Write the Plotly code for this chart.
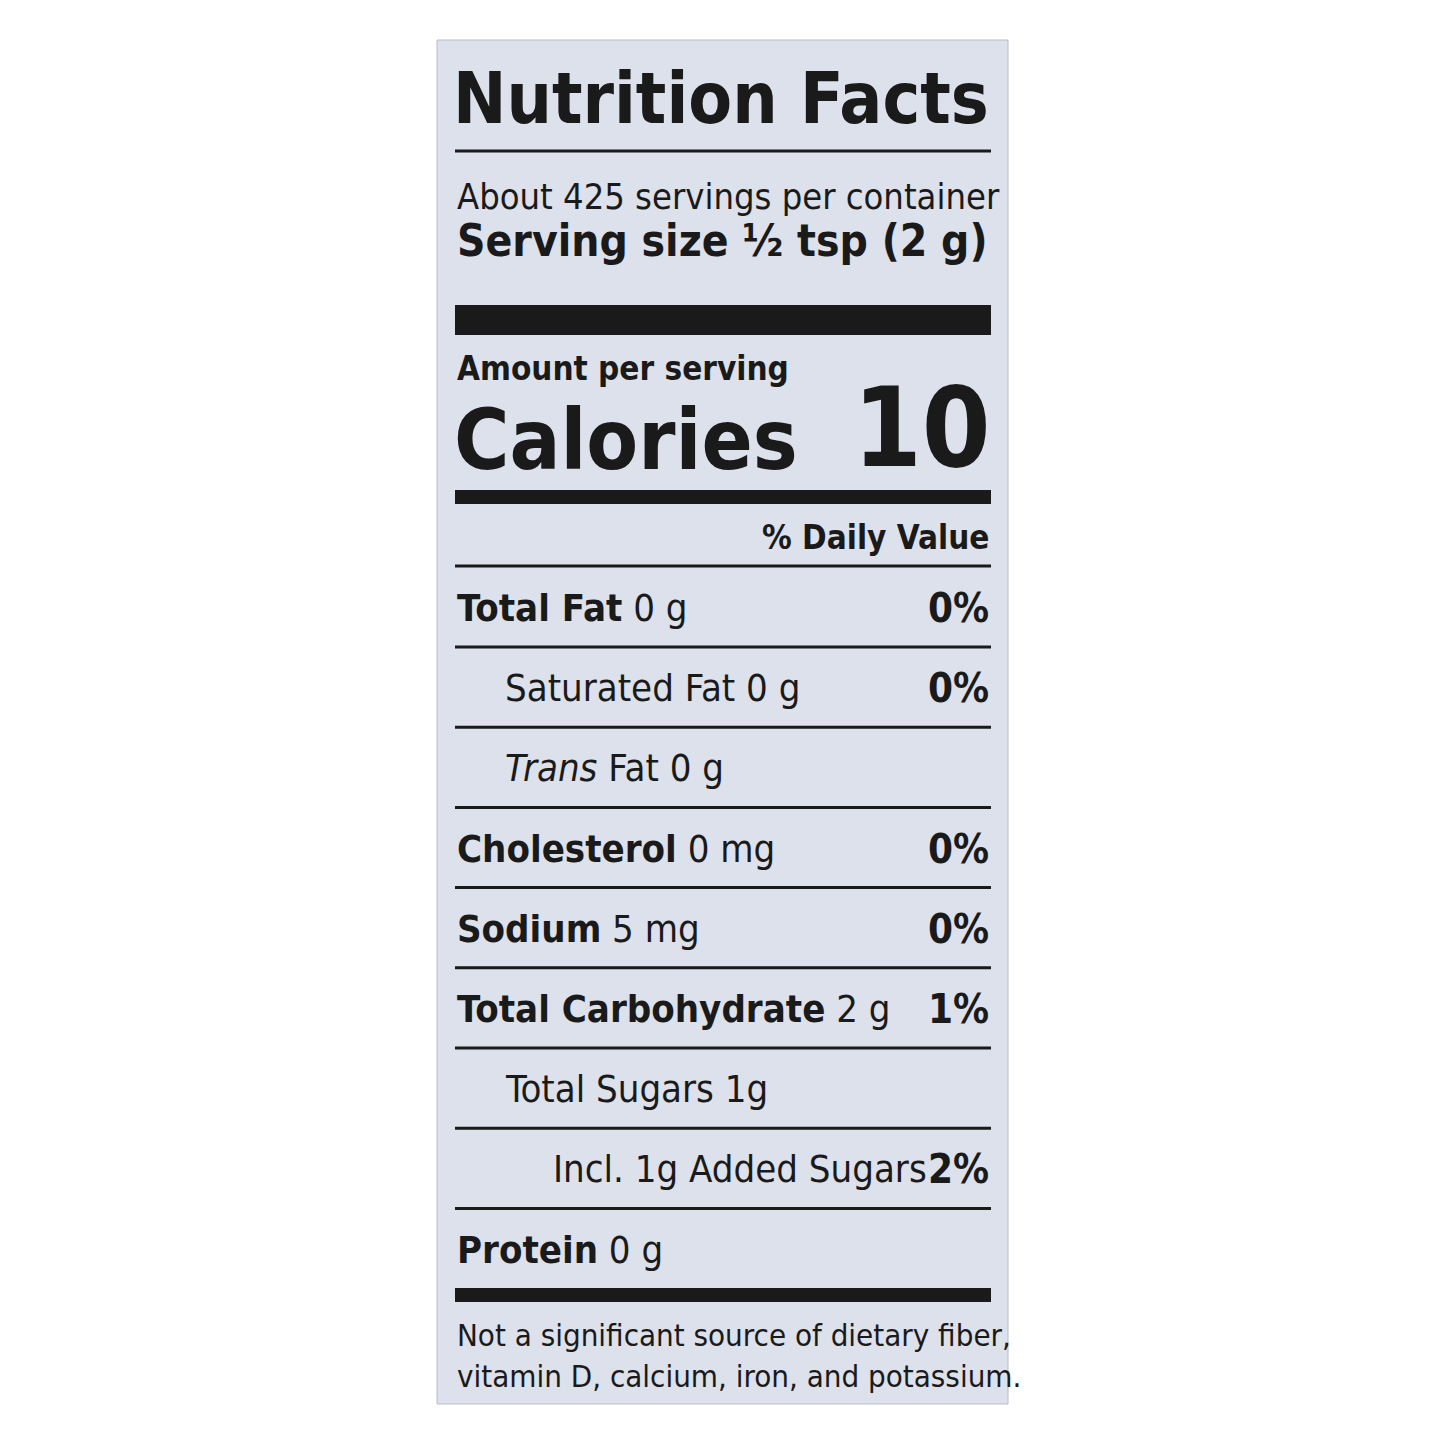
import plotly.graph_objects as go

# label data
header_title = "Nutrition Facts"
servings_text = "About 425 servings per container"
serving_size = "Serving size ½ tsp (2 g)"
calories = "10"

row_bold = ["Total Fat", "", "", "Cholesterol", "Sodium", "Total Carbohydrate", "", "", "Protein"]
row_rest = ["0 g", "Saturated Fat 0 g", "<i>Trans</i> Fat 0 g", "0 mg", "5 mg", "2 g",
            "Total Sugars 1g", "Incl. 1g Added Sugars", "0 g"]
row_indent = [0, 1, 1, 0, 0, 0, 1, 2, 0]
row_dv = ["0%", "0%", "", "0%", "0%", "1%", "", "2%", ""]

footnote = ["Not a significant source of dietary fiber,",
            "vitamin D, calcium, iron, and potassium."]

FONT = "DejaVu Sans Condensed, Liberation Sans Narrow, sans-serif"
INK = "#1a1a1a"
L, R = 455, 991

fig = go.Figure()
shapes = [dict(type="rect", x0=437, x1=1008, y0=40, y1=1404,
               fillcolor="#dde1ec", line=dict(color="#b8bcc6", width=1), layer="below")]

def bar(y, h):
    shapes.append(dict(type="rect", x0=L, x1=R, y0=y - h / 2, y1=y + h / 2,
                       fillcolor=INK, line=dict(width=0)))

ann = []
def txt(x, y, s, size, anchor="left"):
    ann.append(dict(x=x, y=y, text=s, showarrow=False, xanchor=anchor, yanchor="middle",
                    font=dict(family=FONT, size=size, color=INK)))

txt(L - 4, 98, "<b>" + header_title + "</b>", 71)
bar(151, 3)
txt(L, 196, servings_text, 36)
txt(L, 240, "<b>" + serving_size + "</b>", 44)
bar(320, 30)
txt(L, 368, "<b>Amount per serving</b>", 33)
txt(L - 3, 440, "<b>Calories</b>", 84)
txt(R + 2, 428, "<b>" + calories + "</b>", 110, "right")
bar(497, 14)
txt(R, 537, "<b>% Daily Value</b>", 33, "right")
bar(566, 3)

y = 608
for i in range(len(row_rest)):
    s = ("<b>" + row_bold[i] + "</b> " if row_bold[i] else "") + row_rest[i]
    txt(L + 48 * row_indent[i], y, s, 38)
    if row_dv[i]:
        txt(R, y, "<b>" + row_dv[i] + "</b>", 40, "right")
    if i < len(row_rest) - 1:
        bar(y + 39, 3)
    y += 80.2

bar(1295, 14)
txt(L, 1335, footnote[0], 31)
txt(L, 1376, footnote[1], 31)

fig.update_layout(width=1445, height=1445, margin=dict(l=0, r=0, t=0, b=0),
                  paper_bgcolor="white", plot_bgcolor="white",
                  xaxis=dict(range=[8, 1453], visible=False, fixedrange=True),
                  yaxis=dict(range=[1453, 8], visible=False, fixedrange=True),
                  shapes=shapes, annotations=ann, showlegend=False)
fig.write_html("out.html")
